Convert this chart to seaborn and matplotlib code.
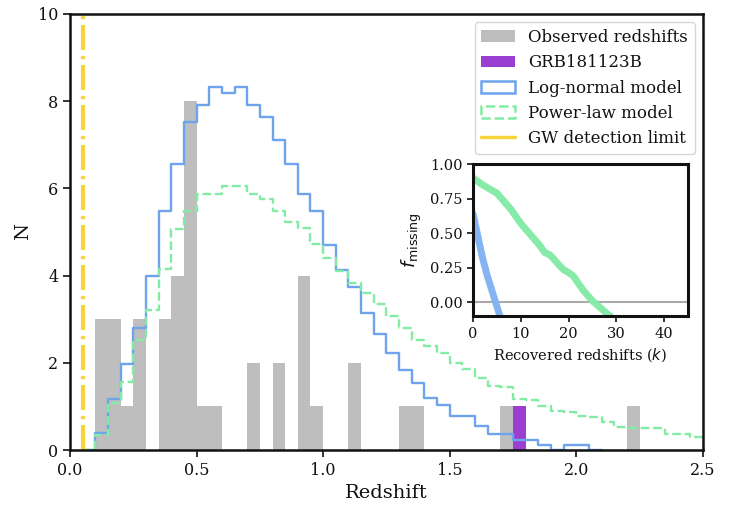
import numpy as np
import pandas as pd
import matplotlib
matplotlib.use("Agg")
import matplotlib.pyplot as plt
import seaborn as sns
from matplotlib.patches import Patch
from matplotlib.lines import Line2D

# histogram bins (lower edges start at 0.10, width 0.05)
bin_start = 0.10
bin_width = 0.05

# observed redshift counts per bin, 0.10 ... 2.25
obs_counts = [3, 3, 1, 3, 0, 3, 4, 8, 1, 1, 0, 0, 2, 0, 2, 0, 4, 1, 0, 0,
              2, 0, 0, 0, 1, 1, 0, 0, 0, 0, 0, 0, 1, 0, 0, 0, 0, 0, 0, 0,
              0, 0, 1]
grb_z = [1.775]

# log-normal model, 0.10 ... 2.05
lognorm_counts = [0.38, 1.17, 1.97, 2.80, 4.00, 5.49, 6.57, 7.53, 7.91, 8.32,
                  8.18, 8.32, 7.92, 7.63, 7.10, 6.55, 5.88, 5.49, 4.70, 4.13,
                  3.73, 3.15, 2.65, 2.23, 1.84, 1.53, 1.19, 1.04, 0.77, 0.77,
                  0.55, 0.37, 0.37, 0.23, 0.23, 0.12, 0.0, 0.12, 0.12]

# power-law model, 0.10 ... 2.55
powlaw_counts = [0.34, 1.07, 1.57, 2.53, 3.20, 4.14, 5.07, 5.49, 5.87, 5.87,
                 6.05, 6.05, 5.87, 5.76, 5.49, 5.22, 5.10, 4.72, 4.41, 4.11,
                 3.84, 3.61, 3.34, 3.07, 2.80, 2.53, 2.38, 2.23, 2.00, 1.85,
                 1.65, 1.47, 1.45, 1.18, 1.15, 1.02, 0.90, 0.88, 0.77, 0.76,
                 0.65, 0.52, 0.51, 0.50, 0.50, 0.37, 0.36, 0.29, 0.25]

gw_limit = 0.05

# inset: fraction missing vs recovered redshifts
k_lognorm = [0, 1, 2, 3, 4, 5, 6]
f_lognorm = [0.64, 0.48, 0.32, 0.19, 0.08, -0.03, -0.14]
k_powlaw = list(range(30))
f_powlaw = [0.90, 0.875, 0.85, 0.83, 0.81, 0.79, 0.75, 0.71, 0.67, 0.62,
            0.57, 0.53, 0.49, 0.45, 0.41, 0.36, 0.345, 0.31, 0.27, 0.235,
            0.215, 0.19, 0.14, 0.09, 0.05, 0.01, -0.02, -0.05, -0.08, -0.11]

c_obs = '#bebebe'
c_grb = '#9a3fd2'
c_logn = '#6ea4ee'
c_pow = '#82eca4'
c_gw = '#f7d43a'


def edges_for(n, pad=1):
    # bin edges, with zero bins either side so the step outline closes
    lo = bin_start - pad * bin_width
    return [round(lo + bin_width * i, 3) for i in range(n + 2 * pad + 1)]


def centres(counts):
    return np.round(bin_start + bin_width * (np.arange(len(counts)) + 0.5), 3)


sns.set_style("ticks")
plt.rcParams['font.family'] = ['DejaVu Serif']
plt.rcParams['mathtext.fontset'] = 'dejavusans'
for key in ['text.color', 'axes.labelcolor', 'xtick.color', 'ytick.color',
            'axes.edgecolor']:
    plt.rcParams[key] = '#111111'

fig = plt.figure(figsize=(7.36, 5.05), dpi=100)
ax = fig.add_axes([0.0951, 0.1089, 0.8599, 0.8634])

obs = pd.DataFrame({'z': centres(obs_counts), 'w': obs_counts})
sns.histplot(data=obs, x='z', weights='w', bins=edges_for(len(obs_counts), 0),
             color=c_obs, alpha=1, linewidth=0, ax=ax)
sns.histplot(x=grb_z, bins=[1.75, 1.80], color=c_grb, alpha=1, linewidth=0, ax=ax)

logn = pd.DataFrame({'z': centres(lognorm_counts), 'w': lognorm_counts})
sns.histplot(data=logn, x='z', weights='w', bins=edges_for(len(lognorm_counts)),
             element='step', fill=False, color=c_logn, linewidth=1.7, ax=ax)
pw = pd.DataFrame({'z': centres(powlaw_counts), 'w': powlaw_counts})
sns.histplot(data=pw, x='z', weights='w', bins=edges_for(len(powlaw_counts)),
             element='step', fill=False, color=c_pow, linewidth=1.7,
             linestyle='--', ax=ax)

ax.axvline(gw_limit, color=c_gw, linewidth=3, linestyle=(0, (6.0, 1.4, 0.8, 1.4)))

ax.set_xlim(0, 2.5)
ax.set_ylim(0, 10)
ax.set_xticks([0.0, 0.5, 1.0, 1.5, 2.0, 2.5])
ax.set_yticks([0, 2, 4, 6, 8, 10])
ax.set_xlabel('Redshift', fontsize=14)
ax.set_ylabel('N', fontsize=14)
ax.tick_params(labelsize=11.5, width=1.2, length=5)
for s in ax.spines.values():
    s.set_visible(True)
    s.set_linewidth(1.8)

handles = [Patch(facecolor=c_obs, edgecolor='none'),
           Patch(facecolor=c_grb, edgecolor='none'),
           Patch(facecolor='none', edgecolor=c_logn, linewidth=1.8),
           Patch(facecolor='none', edgecolor=c_pow, linewidth=1.8, linestyle='--'),
           Line2D([], [], color=c_gw, linewidth=2.5)]
labels = ['Observed redshifts', 'GRB181123B', 'Log-normal model',
          'Power-law model', 'GW detection limit']
ax.legend(handles, labels, loc='upper right', fontsize=12, frameon=True,
          borderaxespad=0.5)

# inset
axin = fig.add_axes([0.6427, 0.374, 0.2921, 0.301])
axin.axhline(0, color='#aaaaaa', linewidth=1.5)
sns.lineplot(x=k_lognorm, y=f_lognorm, color='#84b4f2', linewidth=5, ax=axin)
sns.lineplot(x=k_powlaw, y=f_powlaw, color='#86eaa8', linewidth=5, ax=axin)
axin.set_xlim(0, 45)
axin.set_ylim(-0.1, 1.0)
axin.set_xticks([0, 10, 20, 30, 40])
axin.set_yticks([0.0, 0.25, 0.5, 0.75, 1.0])
axin.set_yticklabels(['0.00', '0.25', '0.50', '0.75', '1.00'])
axin.set_xlabel('Recovered redshifts ($k$)', fontsize=10.5)
axin.set_ylabel(r'$f_{\rm missing}$', fontsize=13)
axin.tick_params(labelsize=10.5, width=1.2, length=4)
for s in axin.spines.values():
    s.set_visible(True)
    s.set_linewidth(2.2)

fig.savefig('out.png', dpi=100)
